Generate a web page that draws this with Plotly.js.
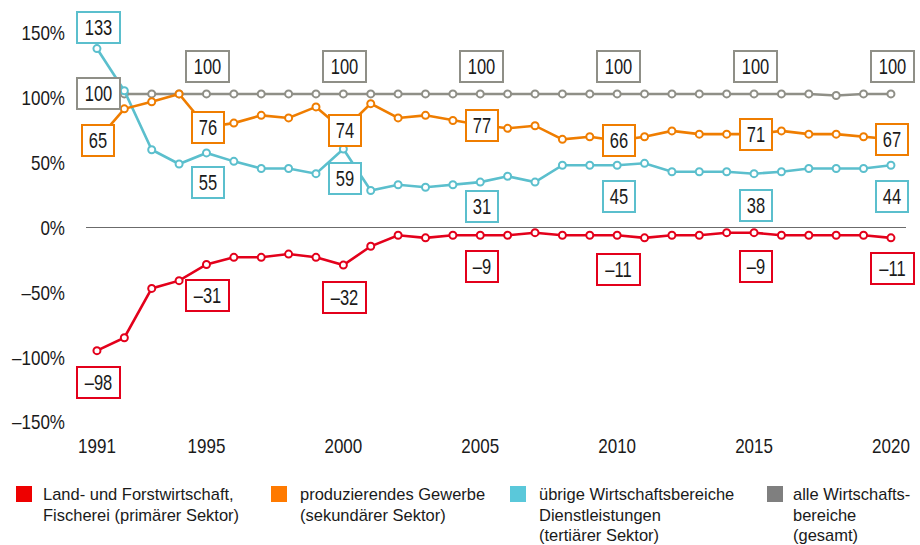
<!DOCTYPE html>
<html>
<head>
<meta charset="utf-8">
<script src="https://cdn.plot.ly/plotly-3.0.1.min.js"></script>
<style>
  html, body { margin: 0; padding: 0; background: #fff; }
  #chart { width: 920px; height: 545px; }
</style>
</head>
<body>
<div id="chart"></div>
<script>
// ---------- DATA ----------
const years = [1991,1992,1993,1994,1995,1996,1997,1998,1999,2000,
               2001,2002,2003,2004,2005,2006,2007,2008,2009,2010,
               2011,2012,2013,2014,2015,2016,2017,2018,2019,2020];

const primaer = [-95,-85,-47,-41,-28.5,-23,-23,-20.5,-23,-29,
                 -14.5,-6,-8,-6,-6,-6,-4,-6,-6,-6,
                 -8,-6,-6,-4,-4,-6,-6,-6,-6,-8];

const sekundaer = [67,91.5,97,103,77.5,80.5,86.5,84.5,93,75,
                   95.5,84.5,86.5,82.5,79,76.5,78.5,68,70,67,
                   70,74.5,72,72,72,74.5,72,72,70,68];

const tertiaer = [138,105.5,60,49,57.5,51,45.5,45.5,41.5,60.5,
                  28.5,33,31,33,35,39.5,35,48,48,48,
                  49.5,43,43,43,41.5,43,45.5,45.5,45.5,48];

const gesamt = [103,103,103,103,103,103,103,103,103,103,
                103,103,103,103,103,103,103,103,103,103,
                103,103,103,103,103,103,103,101.8,103,103];

const labelYears   = [1991,1995,2000,2005,2010,2015,2020];
const primaerLbl   = ['–98','–31','–32','–9','–11','–9','–11'];
const sekundaerLbl = ['65','76','74','77','66','71','67'];
const tertiaerLbl  = ['133','55','59','31','45','38','44'];
const gesamtLbl    = ['100','100','100','100','100','100','100'];

const xTickVals = [1991,1995,2000,2005,2010,2015,2020];
const xTickText = ['1991','1995','2000','2005','2010','2015','2020'];
const yTickVals = [-150,-100,-50,0,50,100,150];
const yTickText = ['–150%','–100%','–50%','0%','50%','100%','150%'];

const legendLines = [
  ['Land- und Forstwirtschaft,', 'Fischerei (primärer Sektor)'],
  ['produzierendes Gewerbe', '(sekundärer Sektor)'],
  ['übrige Wirtschaftsbereiche', 'Dienstleistungen', '(tertiärer Sektor)'],
  ['alle Wirtschafts-', 'bereiche', '(gesamt)']
];

// ---------- STYLE ----------
const FONT = '"Liberation Sans", Arial, sans-serif';
const TXT = '#1a1a1a';
const C_RED = '#e3001b', C_ORA = '#ef7d00', C_CYA = '#5bbfcd', C_GRY = '#8f8f87';
const LEG_COLORS = ['#ee0000', '#ff7a00', '#5ac8da', '#7f7f7f'];

const SZ_LABEL = 22, SZ_TICK = 21, SZ_LEG = 17;
// horizontal condensing per font size (simulates a condensed typeface)
const SQUEEZE = {22: 0.75, 21: 0.81, 17: 0.97};

// label pixel offsets (positive = up)
const gesamtShift    = [0, 27, 27, 27, 27, 27, 27];
const sekundaerShift = [0, 0, 0, 0, 0, 0, 0];
const tertiaerShift  = [21, -30, -29, -24, -31, -32, -31];
const primaerShift   = [-32, -31, -32, -31, -34, -33.5, -31];

const M = {l: 86, r: 14, t: 33, b: 123};
const W = 920, H = 545;
const plotW = W - M.l - M.r, plotH = H - M.t - M.b;
const px2paperX = px => (px - M.l) / plotW;
const px2paperY = py => (H - M.b - py) / plotH;

function series(y, color, name) {
  return {
    x: years, y: y, name: name, type: 'scatter', mode: 'lines+markers',
    line: {color: color, width: 2.6},
    marker: {symbol: 'circle', size: 7, color: '#ffffff', line: {color: color, width: 2}},
    cliponaxis: false, hoverinfo: 'x+y'
  };
}

const traces = [
  series(gesamt, C_GRY, 'gesamt'),
  series(tertiaer, C_CYA, 'tertiär'),
  series(sekundaer, C_ORA, 'sekundär'),
  series(primaer, C_RED, 'primär')
];

const annotations = [];
function addLabels(lbls, vals, shifts, color) {
  lbls.forEach((t, i) => {
    const yr = labelYears[i];
    const v = vals[years.indexOf(yr)];
    annotations.push({
      x: yr, y: v, xref: 'x', yref: 'y', text: t, showarrow: false,
      xanchor: 'center', yanchor: 'middle', xshift: 1.5, yshift: shifts[i],
      font: {family: FONT, size: SZ_LABEL, color: TXT},
      bgcolor: '#ffffff', bordercolor: color, borderwidth: 2, borderpad: 0,
      width: t.length >= 3 ? 41 : 30, height: 29
    });
  });
}
addLabels(gesamtLbl, gesamt, gesamtShift, C_GRY);
addLabels(sekundaerLbl, sekundaer, sekundaerShift, C_ORA);
addLabels(tertiaerLbl, tertiaer, tertiaerShift, C_CYA);
addLabels(primaerLbl, primaer, primaerShift, C_RED);

// custom legend
const legSquareX = [16, 271, 510, 767];
const legTextX   = [41, 298, 537, 791];
const legLineY   = [494, 515, 535];
const shapes = [];
legendLines.forEach((lines, i) => {
  shapes.push({
    type: 'rect', xref: 'paper', yref: 'paper',
    x0: px2paperX(legSquareX[i]), x1: px2paperX(legSquareX[i] + 16),
    y0: px2paperY(486), y1: px2paperY(502),
    fillcolor: LEG_COLORS[i], line: {width: 0}
  });
  lines.forEach((ln, j) => {
    annotations.push({
      xref: 'paper', yref: 'paper', x: px2paperX(legTextX[i]), y: px2paperY(legLineY[j]),
      xanchor: 'left', yanchor: 'middle', align: 'left', showarrow: false,
      text: ln, font: {family: FONT, size: SZ_LEG, color: TXT}
    });
  });
});

const layout = {
  width: W, height: H,
  margin: M,
  paper_bgcolor: '#ffffff', plot_bgcolor: '#ffffff',
  showlegend: false,
  font: {family: FONT, color: TXT},
  xaxis: {
    range: [1990.6, 2020.55], tickvals: xTickVals, ticktext: xTickText,
    showgrid: false, zeroline: false, showline: false, ticks: '',
    tickfont: {family: FONT, size: SZ_TICK, color: TXT}, ticklabelstandoff: 9,
    ticklabelshift: 1.5
  },
  yaxis: {
    range: [-150, 150], tickvals: yTickVals, ticktext: yTickText,
    showgrid: false, zeroline: true, zerolinecolor: '#6b6b6b', zerolinewidth: 1.3,
    showline: false, ticks: '', tickfont: {family: FONT, size: SZ_TICK, color: TXT},
    ticklabelstandoff: 20
  },
  annotations: annotations,
  shapes: shapes
};

Plotly.newPlot('chart', traces, layout, {displayModeBar: false, staticPlot: true}).then(gd => {
  gd.querySelectorAll('svg text').forEach(el => {
    const fs = Math.round(parseFloat(el.style.fontSize || getComputedStyle(el).fontSize));
    const k = SQUEEZE[fs];
    if (!k) return;
    const len = el.getComputedTextLength();
    if (len > 0) {
      el.setAttribute('textLength', (len * k).toFixed(2));
      el.setAttribute('lengthAdjust', 'spacingAndGlyphs');
    }
  });
});
</script>
</body>
</html>
